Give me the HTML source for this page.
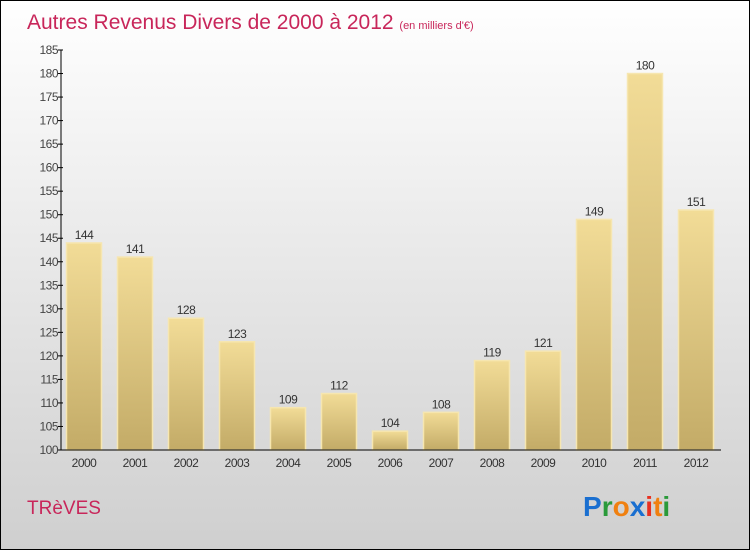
<!DOCTYPE html>
<html><head><meta charset="utf-8"><style>
html,body{margin:0;padding:0;}
body{width:750px;height:550px;overflow:hidden;font-family:"Liberation Sans",sans-serif;}
</style></head><body>
<svg width="750" height="550" xmlns="http://www.w3.org/2000/svg">
<defs>
<linearGradient id="bg" x1="0" y1="0" x2="0" y2="1"><stop offset="0" stop-color="#ffffff"/><stop offset="1" stop-color="#cfcfcf"/></linearGradient>
<linearGradient id="bar" x1="0" y1="0" x2="0" y2="1"><stop offset="0" stop-color="#f2dc97"/><stop offset="1" stop-color="#c3ab67"/></linearGradient>
</defs>
<rect x="0.5" y="0.5" width="749" height="549" fill="url(#bg)" stroke="#000"/>
<text x="27" y="29" font-size="21" fill="#c8265a">Autres Revenus Divers de 2000 à 2012 <tspan font-size="11">(en milliers d'€)</tspan></text>
<g id="yaxis"></g>
<g id="bars"></g>
<g id="xaxis"></g>
<text x="27" y="514" font-size="19" fill="#c8265a">TRèVES</text>
<g font-size="28" font-weight="bold" font-family="Liberation Sans, sans-serif">
<text x="583" y="516"><tspan fill="#1a6fd0">P</tspan><tspan fill="#2a9a3a">r</tspan><tspan fill="#f08010">o</tspan><tspan fill="#1a6fd0">x</tspan><tspan fill="#e83020">i</tspan><tspan fill="#f08010">t</tspan><tspan fill="#2a9a3a">i</tspan></text>
</g>
</svg>
<script>
const categories=["2000","2001","2002","2003","2004","2005","2006","2007","2008","2009","2010","2011","2012"];
const values=[144,141,128,123,109,112,104,108,119,121,149,180,151];
const yTicks=[100,105,110,115,120,125,130,135,140,145,150,155,160,165,170,175,180,185];
const NS="http://www.w3.org/2000/svg";
const yMin=100,yMax=185,y0=450,y1=50;
function yScale(v){return y0-(v-yMin)/(yMax-yMin)*(y0-y1);}
function xScale(i){return 84+i*51;}
const bw=35;
function mk(tag,attrs,parent){const e=document.createElementNS(NS,tag);for(const k in attrs)e.setAttribute(k,attrs[k]);parent.appendChild(e);return e;}
const ya=document.getElementById('yaxis'),bars=document.getElementById('bars'),xa=document.getElementById('xaxis');
let l=mk('line',{x1:61,y1:y1,x2:61,y2:y0,stroke:'#000'},ya);


yTicks.forEach(t=>{
 const y=yScale(t);
 const tk=mk('line',{x1:58,y1:y,x2:63,y2:y,stroke:'#000'},ya);
 
 
 const tx=mk('text',{x:58,y:y+4,'font-size':12,fill:'#444','text-anchor':'end','letter-spacing':'-0.5'},ya);
 tx.textContent=t;
 
 
});
values.forEach((v,i)=>{
 const cx=xScale(i),y=yScale(v);
 const r=mk('rect',{x:cx-bw/2,y:y,width:bw,height:y0-y,fill:'url(#bar)',stroke:'#f6e6b0','stroke-width':1.5},bars);
 
 
 const t=mk('text',{x:cx,y:y-4,'font-size':12,fill:'#333','text-anchor':'middle','letter-spacing':'-0.5'},bars);
 t.textContent=v;
 
 
 const c=mk('text',{x:cx,y:467,'font-size':12,fill:'#333','text-anchor':'middle','letter-spacing':'-0.5'},xa);
 c.textContent=categories[i];
 
 
});
const xl=mk('line',{x1:61,y1:y0,x2:721,y2:y0,stroke:'#000'},xa);


</script>
</body></html>
